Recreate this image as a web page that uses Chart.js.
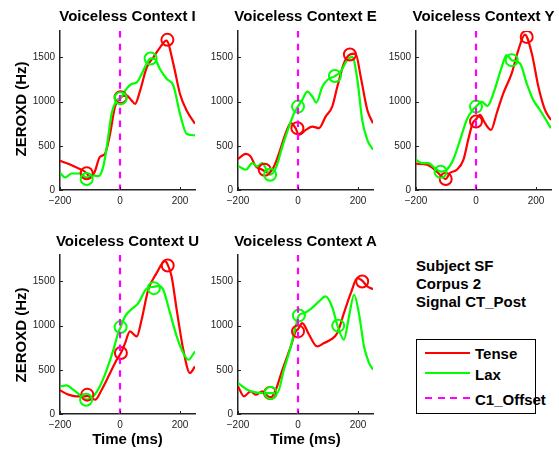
<!DOCTYPE html>
<html>
<head>
<meta charset="utf-8">
<title>ZEROXD by context</title>
<script src="https://cdn.jsdelivr.net/npm/chart.js@4"></script>
<style>
  html, body { margin: 0; padding: 0; background: #fff; }
  body { position: relative; width: 559px; height: 452px; overflow: hidden;
         font-family: "Liberation Sans", Arial, sans-serif; color: #000; }
  .panel { position: absolute; width: 195px; height: 194px; }
  .lbl { position: absolute; font-weight: bold; font-size: 15px; line-height: 1;
         white-space: nowrap; transform: translate(-50%, -50%); }
  .lft { transform: translateY(-50%); }
  .rot { transform: translate(-50%, -50%) rotate(-90deg); }
  #legend { position: absolute; left: 416px; top: 339px; width: 120px; height: 75px;
            box-sizing: border-box; border: 1.5px solid #000; }
  .swatch { position: absolute; left: 425px; width: 45px; height: 2px; }
</style>
</head>
<body>

<!-- ─── Panels ─── -->
<div class="panel" style="left:10px; top:20px;"><canvas id="p-i" width="195" height="194"></canvas></div>
<div class="panel" style="left:188px; top:20px;"><canvas id="p-e" width="195" height="194"></canvas></div>
<div class="panel" style="left:366px; top:20px;"><canvas id="p-y" width="195" height="194"></canvas></div>
<div class="panel" style="left:10px; top:244px;"><canvas id="p-u" width="195" height="194"></canvas></div>
<div class="panel" style="left:188px; top:244px;"><canvas id="p-a" width="195" height="194"></canvas></div>

<!-- ─── Titles & axis labels ─── -->
<div class="lbl" style="left:127.5px; top:15px;">Voiceless Context I</div>
<div class="lbl" style="left:305.5px; top:15px;">Voiceless Context E</div>
<div class="lbl" style="left:483.5px; top:15px;">Voiceless Context Y</div>
<div class="lbl" style="left:127.5px; top:240px;">Voiceless Context U</div>
<div class="lbl" style="left:305.5px; top:240px;">Voiceless Context A</div>

<div class="lbl rot" style="left:20px; top:109px;">ZEROXD (Hz)</div>
<div class="lbl rot" style="left:20px; top:335px;">ZEROXD (Hz)</div>
<div class="lbl" style="left:127.5px; top:438px;">Time (ms)</div>
<div class="lbl" style="left:305.5px; top:438px;">Time (ms)</div>

<!-- ─── Info text ─── -->
<div class="lbl lft" style="left:416px; top:265px;">Subject SF</div>
<div class="lbl lft" style="left:416px; top:283px;">Corpus 2</div>
<div class="lbl lft" style="left:416px; top:301px;">Signal CT_Post</div>

<!-- ─── Legend ─── -->
<div id="legend"></div>
<div class="swatch" style="top:351.7px; background:#ff0000;"></div>
<div class="swatch" style="top:372.3px; background:#00ff00;"></div>
<div class="swatch" style="top:397.3px; background:repeating-linear-gradient(to right, #ff00ff 0 7px, transparent 7px 12.5px);"></div>
<div class="lbl lft" style="left:475px; top:353px;">Tense</div>
<div class="lbl lft" style="left:475px; top:374px;">Lax</div>
<div class="lbl lft" style="left:475px; top:399px;">C1_Offset</div>

<script>
(function() {
    'use strict';

    // ─── Axes ───
    const xMin = -200, xMax = 250;
    const yMin = 0, yMax = 1800;
    const xTicks = [-200, 0, 200];
    const yTicks = [0, 500, 1000, 1500];
    const offsetT = 0;

    // ─── Context I ───
    const iTenseT  = [-200, -175, -150, -125, -111, -100, -85, -67, -50, -33, -17, 2, 22, 39, 50, 67, 89, 111, 133, 155, 178, 200, 222, 250];
    const iTenseHz = [330, 300, 262, 225, 190, 140, 200, 375, 410, 637, 937, 1050, 1069, 1012, 975, 1125, 1387, 1500, 1612, 1690, 1425, 1087, 900, 750];
    const iLaxT    = [-200, -183, -161, -133, -111, -94, -72, -56, -44, -28, -11, 2, 17, 39, 56, 72, 94, 102, 117, 133, 156, 178, 200, 222, 250];
    const iLaxHz   = [195, 142, 187, 187, 140, 169, 157, 262, 487, 862, 1012, 1039, 1125, 1200, 1219, 1312, 1462, 1489, 1481, 1369, 1256, 1181, 862, 637, 619];
    const iTenseMarkT = [-111, 2, 158],  iTenseMarkHz = [190, 1050, 1700];
    const iLaxMarkT   = [-111, 2, 102],  iLaxMarkHz   = [124, 1039, 1489];

    // ─── Context E ───
    const eTenseT  = [-200, -174, -158, -141, -119, -97, -80, -63, -41, -24, -8, 3, 26, 48, 70, 92, 114, 131, 153, 173, 192, 209, 231, 250];
    const eTenseHz = [350, 410, 380, 267, 230, 192, 267, 417, 643, 756, 700, 624, 680, 718, 700, 831, 944, 1169, 1432, 1534, 1545, 1282, 906, 756];
    const eLaxT    = [-200, -174, -152, -136, -119, -105, -93, -74, -52, -30, -13, 0, 14, 31, 48, 61, 81, 98, 123, 142, 164, 181, 198, 214, 231, 250];
    const eLaxHz   = [274, 229, 305, 267, 305, 230, 173, 248, 493, 718, 869, 944, 1019, 1113, 1057, 989, 1169, 1245, 1290, 1339, 1470, 1508, 1245, 793, 568, 455];
    const eTenseMarkT = [-111, -2, 173], eTenseMarkHz = [230, 700, 1534];
    const eLaxMarkT   = [-93, 0, 123],   eLaxMarkHz   = [173, 944, 1290];

    // ─── Context Y ───
    const yTenseT  = [-200, -164, -137, -114, -101, -87, -64, -42, -26, -11, 0, 13, 30, 50, 69, 91, 119, 141, 163, 186, 208, 230, 250];
    const yTenseHz = [297, 286, 229, 154, 124, 192, 229, 342, 568, 756, 800, 850, 756, 680, 869, 1094, 1320, 1583, 1760, 1545, 1169, 906, 793];
    const yLaxT    = [-200, -181, -159, -137, -118, -98, -76, -53, -31, -11, 0, 19, 38, 58, 86, 102, 119, 147, 169, 191, 213, 230, 250];
    const yLaxHz   = [342, 305, 305, 248, 207, 229, 342, 568, 793, 906, 944, 1000, 951, 1094, 1395, 1527, 1470, 1432, 1207, 1019, 906, 812, 699];
    const yTenseMarkT = [-101, 0, 169], yTenseMarkHz = [124, 775, 1733];
    const yLaxMarkT   = [-118, 0, 119], yLaxMarkHz   = [207, 944, 1470];

    // ─── Context U ───
    const uTenseT  = [-200, -172, -144, -117, -109, -83, -61, -33, -11, 3, 17, 33, 56, 72, 94, 122, 150, 159, 172, 189, 211, 233, 250];
    const uTenseHz = [268, 219, 200, 200, 205, 162, 275, 464, 614, 690, 803, 935, 878, 1067, 1406, 1595, 1730, 1690, 1557, 1180, 728, 464, 539];
    const uLaxT    = [-200, -178, -156, -128, -113, -89, -67, -44, -22, -6, 2, 17, 39, 61, 89, 113, 130, 144, 167, 189, 211, 228, 250];
    const uLaxHz   = [313, 324, 275, 200, 162, 200, 313, 501, 728, 916, 984, 1105, 1188, 1255, 1420, 1440, 1450, 1406, 1142, 878, 690, 614, 709];
    const uTenseMarkT = [-109, 3, 159], uTenseMarkHz = [219, 690, 1681];
    const uLaxMarkT   = [-113, 2, 113], uLaxMarkHz   = [162, 984, 1425];

    // ─── Context A ───
    const aTenseT  = [-200, -180, -158, -141, -119, -100, -90, -74, -52, -24, -8, 0, 14, 37, 64, 87, 109, 131, 153, 176, 198, 214, 231, 250];
    const aTenseHz = [313, 200, 256, 219, 256, 200, 190, 275, 501, 765, 935, 960, 1029, 897, 765, 803, 841, 916, 1142, 1368, 1538, 1510, 1444, 1414];
    const aLaxT    = [-200, -169, -141, -113, -91, -69, -47, -24, -8, 3, 20, 42, 70, 92, 114, 131, 153, 170, 187, 203, 220, 237, 250];
    const aLaxHz   = [351, 275, 245, 237, 237, 237, 501, 765, 991, 1116, 1142, 1188, 1274, 1331, 1210, 1010, 841, 1105, 1350, 1142, 765, 577, 501];
    const aTenseMarkT = [-93, 0, 214], aTenseMarkHz = [237, 935, 1500];
    const aLaxMarkT   = [-91, 3, 134], aLaxMarkHz   = [237, 1116, 1000];

    const TENSE = '#ff0000';
    const LAX = '#00ff00';
    const OFFSET = '#ff00ff';
    const AXIS = '#222222';

    function pts(ts, hz) {
        return ts.map((t, i) => ({ x: t, y: hz[i] }));
    }

    // MATLAB-style ticks pointing into the plot
    const inwardTicks = {
        id: 'inwardTicks',
        afterDatasetsDraw(chart) {
            const { ctx, chartArea: area, scales: { x, y } } = chart;
            ctx.save();
            ctx.strokeStyle = AXIS;
            ctx.lineWidth = 1;
            xTicks.forEach(v => {
                const px = Math.round(x.getPixelForValue(v)) + 0.5;
                ctx.beginPath();
                ctx.moveTo(px, area.bottom);
                ctx.lineTo(px, area.bottom - 3);
                ctx.stroke();
            });
            yTicks.forEach(v => {
                const py = Math.round(y.getPixelForValue(v)) + 0.5;
                ctx.beginPath();
                ctx.moveTo(area.left, py);
                ctx.lineTo(area.left + 3, py);
                ctx.stroke();
            });
            ctx.restore();
        }
    };

    function makePanel(id, tenseT, tenseHz, laxT, laxHz, tmT, tmHz, lmT, lmHz) {
        const canvas = document.getElementById(id);
        const tickFont = { family: '"Liberation Sans", Arial, sans-serif', size: 10 };

        new Chart(canvas, {
            type: 'line',
            data: {
                datasets: [
                    {
                        label: 'C1_Offset',
                        data: [{ x: offsetT, y: yMax }, { x: offsetT, y: yMin }],
                        borderColor: OFFSET,
                        borderWidth: 2.2,
                        borderDash: [6.5, 6.3],
                        pointRadius: 0,
                        order: 0,
                    },
                    {
                        label: 'Lax marks',
                        data: pts(lmT, lmHz),
                        showLine: false,
                        pointRadius: 6,
                        pointBorderWidth: 2,
                        pointBorderColor: LAX,
                        pointBackgroundColor: 'rgba(0,0,0,0)',
                        order: 1,
                    },
                    {
                        label: 'Tense marks',
                        data: pts(tmT, tmHz),
                        showLine: false,
                        pointRadius: 6,
                        pointBorderWidth: 2,
                        pointBorderColor: TENSE,
                        pointBackgroundColor: 'rgba(0,0,0,0)',
                        order: 2,
                    },
                    {
                        label: 'Lax',
                        data: pts(laxT, laxHz),
                        borderColor: LAX,
                        borderWidth: 2.2,
                        pointRadius: 0,
                        cubicInterpolationMode: 'monotone',
                        order: 3,
                    },
                    {
                        label: 'Tense',
                        data: pts(tenseT, tenseHz),
                        borderColor: TENSE,
                        borderWidth: 2.2,
                        pointRadius: 0,
                        cubicInterpolationMode: 'monotone',
                        order: 4,
                    },
                ]
            },
            options: {
                responsive: false,
                animation: false,
                devicePixelRatio: 1,
                layout: { padding: { left: 0, top: 10, right: 10, bottom: 0 } },
                plugins: {
                    legend: { display: false },
                    tooltip: { enabled: false },
                    title: { display: false },
                },
                scales: {
                    x: {
                        type: 'linear',
                        min: xMin,
                        max: xMax,
                        afterBuildTicks: a => { a.ticks = xTicks.map(v => ({ value: v })); },
                        afterFit: a => { a.height = 24; },
                        grid: { display: false, drawTicks: false },
                        border: { display: true, color: AXIS, width: 1.5 },
                        ticks: {
                            padding: 5,
                            color: AXIS,
                            font: tickFont,
                            maxRotation: 0,
                            callback: v => String(v).replace('-', '\u2212'),
                        },
                    },
                    y: {
                        type: 'linear',
                        min: yMin,
                        max: yMax,
                        afterBuildTicks: a => { a.ticks = yTicks.map(v => ({ value: v })); },
                        afterFit: a => { a.width = 50; },
                        grid: { display: false, drawTicks: false },
                        border: { display: true, color: AXIS, width: 1.5 },
                        ticks: {
                            padding: 5,
                            color: AXIS,
                            font: tickFont,
                            callback: v => String(v),
                        },
                    },
                },
            },
            plugins: [inwardTicks],
        });
    }

    document.addEventListener('DOMContentLoaded', function() {
        makePanel('p-i', iTenseT, iTenseHz, iLaxT, iLaxHz, iTenseMarkT, iTenseMarkHz, iLaxMarkT, iLaxMarkHz);
        makePanel('p-e', eTenseT, eTenseHz, eLaxT, eLaxHz, eTenseMarkT, eTenseMarkHz, eLaxMarkT, eLaxMarkHz);
        makePanel('p-y', yTenseT, yTenseHz, yLaxT, yLaxHz, yTenseMarkT, yTenseMarkHz, yLaxMarkT, yLaxMarkHz);
        makePanel('p-u', uTenseT, uTenseHz, uLaxT, uLaxHz, uTenseMarkT, uTenseMarkHz, uLaxMarkT, uLaxMarkHz);
        makePanel('p-a', aTenseT, aTenseHz, aLaxT, aLaxHz, aTenseMarkT, aTenseMarkHz, aLaxMarkT, aLaxMarkHz);
    });
})();
</script>
</body>
</html>
